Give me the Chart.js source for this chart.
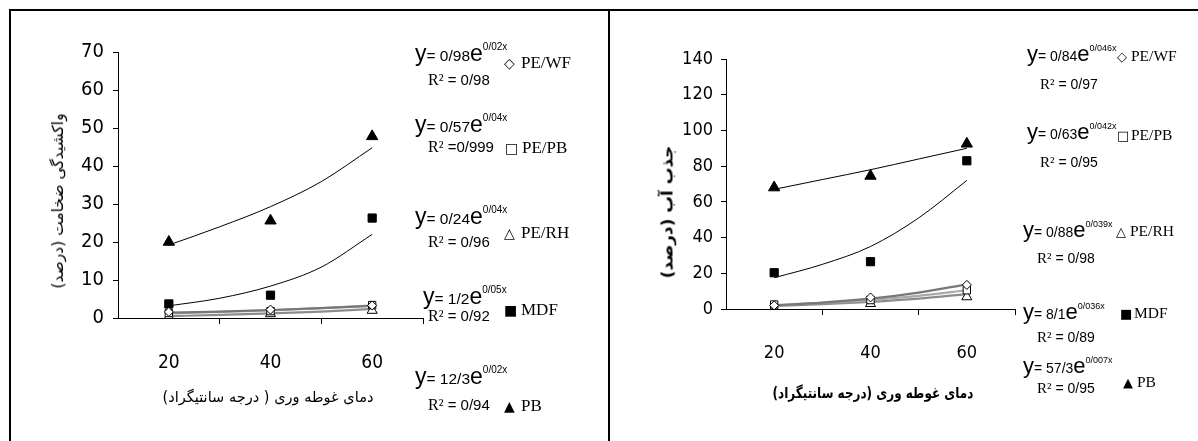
<!DOCTYPE html>
<html>
<head>
<meta charset="utf-8">
<script src="https://cdn.jsdelivr.net/npm/chart.js@4.4.1/dist/chart.umd.min.js"></script>
<style>
  html, body { margin:0; padding:0; background:#fff; }
  body { width:1198px; height:441px; position:relative; overflow:hidden; }
  .frameTop { position:absolute; left:9px; top:9px; width:1189px; height:2px; background:#000; }
  .frameLeft { position:absolute; left:9px; top:9px; width:2px; height:432px; background:#000; }
  .frameMid { position:absolute; left:608px; top:9px; width:2px; height:432px; background:#000; }
  canvas { position:absolute; }
  .t { position:absolute; white-space:nowrap; transform:translateY(-50%); color:#000; line-height:1; }
  .eq { font-family:"Liberation Sans",Arial,sans-serif; }
  .eq .b { font-size:23px; }
  .eq .m { font-size:15.5px; }
  .eq sup { font-size:10px; vertical-align:11px; }
  .r2 { font-family:"Liberation Sans",Arial,sans-serif; font-size:15px; }
  .r2 .s { font-family:"Liberation Serif",serif; font-size:16px; }
  .lg { font-family:"Liberation Serif",serif; font-size:17px; }
  .lg .k { font-family:"DejaVu Sans",sans-serif; font-size:14px; display:inline-block; width:17px; font-weight:bold; }
  .rp .eq .b { font-size:22px; }
  .rp .eq .m { font-size:14px; }
  .rp .eq sup { font-size:9px; vertical-align:10px; }
  .rp .r2 { font-size:14px; }
  .rp .r2 .s { font-size:15px; }
  .rp .lg { font-size:15.5px; }
  .rp .lg .k { width:14px; font-size:13px; }
  .fa { position:absolute; white-space:nowrap; font-family:"DejaVu Sans",sans-serif; font-size:15px; color:#000; direction:rtl; }
</style>
</head>
<body>
<div class="frameTop"></div>
<div class="frameLeft"></div>
<div class="frameMid"></div>
<canvas id="c1" width="597" height="430" style="left:11px;top:11px;"></canvas>
<canvas id="c2" width="587" height="430" style="left:611px;top:11px;"></canvas>
<div id="txt"></div>
<script>
// ---------- data ----------
const xValues = [20, 40, 60];
const trendX = [20, 30, 40, 50, 60];
const xTickLabels = ['20', '40', '60'];
const seriesNames = ['PE/WF', 'PE/PB', 'PE/RH', 'MDF', 'PB'];

// left chart: thickness swelling (%)
const swellPEWF = [1.6, 2.2, 3.3];
const swellPEPB = [1.3, 1.8, 3.4];
const swellPERH = [0.4, 1.1, 2.0];
const swellMDF  = [3.7, 6.0, 26.3];
const swellPB   = [20.0, 25.6, 47.8];
const swellTrendPEWF = [1.4, 1.7, 2.1, 2.6, 3.2];
const swellTrendPEPB = [1.2, 1.6, 2.0, 2.6, 3.3];
const swellTrendPERH = [0.5, 0.8, 1.2, 1.7, 2.4];
const swellTrendMDF  = [3.2, 5.2, 8.4, 13.4, 22.0];
const swellTrendPB   = [19.2, 24.0, 29.3, 35.9, 44.8];
const swellEq = ['0/98', '0/57', '0/24', '1/2', '12/3'];
const swellExp = ['0/02x', '0/04x', '0/04x', '0/05x', '0/02x'];
const swellR2 = ['= 0/98', '=0/999', '= 0/96', '= 0/92', '= 0/94'];

// right chart: water absorption (%)
const absPEWF = [2.0, 6.5, 13.5];
const absPEPB = [2.5, 5.0, 10.5];
const absPERH = [0.5, 3.0, 6.8];
const absMDF  = [20.3, 26.5, 83.0];
const absPB   = [68.0, 74.5, 92.5];
const absTrendPEWF = [2.0, 3.6, 5.8, 9.2, 13.8];
const absTrendPEPB = [2.2, 3.4, 5.0, 7.3, 10.5];
const absTrendPERH = [1.8, 2.7, 4.0, 5.8, 8.3];
const absTrendMDF  = [17.5, 25.0, 35.0, 51.0, 72.0];
const absTrendPB   = [67.0, 72.5, 78.0, 84.0, 90.0];
const absEq = ['0/84', '0/63', '0/88', '8/1', '57/3'];
const absExp = ['0/046x', '0/042x', '0/039x', '0/036x', '0/007x'];
const absR2 = ['= 0/97', '= 0/95', '= 0/98', '= 0/89', '= 0/95'];

// ---------- helpers ----------
const pts = (xs, ys) => xs.map((x, i) => ({x: x, y: ys[i]}));
const markerStyles = [
  {pointStyle:'rectRot', radius:4.5, fill:'#fff'},
  {pointStyle:'rect', radius:5.2, fill:'#fff'},
  {pointStyle:'triangle', radius:5.8, fill:'#fff'},
  {pointStyle:'rect', radius:5.8, fill:'#000'},
  {pointStyle:'triangle', radius:6.5, fill:'#000'}
];
const trendColors = ['#777', '#aaa', '#8c8c8c', '#000', '#000'];
const tickFont = "'DejaVu Sans Condensed','Liberation Sans',sans-serif";

function buildChart(id, pointSeries, trendSeries, yMax, yStep, geo) {
  const datasets = [];
  pointSeries.forEach((s, i) => {
    const m = markerStyles[i];
    datasets.push({
      label: seriesNames[i], data: pts(xValues, s), showLine:false,
      pointStyle:m.pointStyle, pointRadius:m.radius, pointHoverRadius:m.radius,
      pointBackgroundColor:m.fill, pointBorderColor:'#000', pointBorderWidth:1
    });
  });
  trendSeries.forEach((s, i) => {
    datasets.push({
      label: seriesNames[i] + ' trend', data: pts(trendX, s), showLine:true,
      pointRadius:0, borderColor:trendColors[i], borderWidth: i < 3 ? 2.2 : 1,
      cubicInterpolationMode:'monotone', fill:false
    });
  });
  return new Chart(document.getElementById(id), {
    type:'scatter',
    data:{datasets:datasets},
    options:{
      responsive:false, animation:false, events:[],
      layout:{padding:{top:geo.top, right:geo.right, left:0, bottom:0}},
      plugins:{legend:{display:false}, tooltip:{enabled:false}},
      scales:{
        x:{
          type:'linear', min:10, max:70,
          afterBuildTicks(scale){ scale.ticks = [10,20,30,40,50,60,70].map(v => ({value:v})); },
          afterFit(scale){ scale.height = geo.xh; scale.paddingLeft = 0; scale.paddingRight = 0; },
          ticks:{
            autoSkip:false, maxRotation:0, color:'#000', padding:geo.xpad,
            font:{family:tickFont, size:geo.xfont},
            callback(v){ const i = xValues.indexOf(v); return i >= 0 ? xTickLabels[i] : ''; }
          },
          grid:{
            drawOnChartArea:false, drawTicks:true, tickLength:6, lineWidth:1,
            tickColor(ctx){ return (ctx.tick && [30,50,70].includes(ctx.tick.value)) ? '#000' : 'rgba(0,0,0,0)'; }
          },
          border:{display:true, color:'#000', width:1}
        },
        y:{
          type:'linear', min:0, max:yMax,
          afterFit(scale){ scale.width = geo.yw; scale.paddingTop = 0; scale.paddingBottom = 0; },
          ticks:{stepSize:yStep, color:'#000', padding:geo.ypad, font:{family:tickFont, size:geo.yfont}},
          grid:{drawOnChartArea:false, drawTicks:true, tickLength:5, tickColor:'#000'},
          border:{display:true, color:'#000', width:1}
        }
      }
    }
  });
}

buildChart('c1',
  [swellPEWF, swellPEPB, swellPERH, swellMDF, swellPB],
  [swellTrendPEWF, swellTrendPEPB, swellTrendPERH, swellTrendMDF, swellTrendPB],
  70, 10, {top:41, right:185, xh:123, yw:107, xpad:28, ypad:9, xfont:19, yfont:20});

buildChart('c2',
  [absPEWF, absPEPB, absPERH, absMDF, absPB],
  [absTrendPEWF, absTrendPEPB, absTrendPERH, absTrendMDF, absTrendPB],
  140, 20, {top:48, right:183, xh:132, yw:115, xpad:28, ypad:8, xfont:18, yfont:18});

// ---------- text (equations, legend, titles) ----------
const markerGlyphs = ['◇', '□', '△', '■', '▲'];
const txt = document.getElementById('txt');
function add(html, cls, x, y, parent) {
  const d = document.createElement('div');
  d.className = 't ' + cls; d.innerHTML = html;
  d.style.left = x + 'px'; d.style.top = y + 'px';
  parent.appendChild(d); return d;
}
function panel(cls, eqs, exps, r2s, layout) {
  const p = document.createElement('div'); p.className = cls; txt.appendChild(p);
  layout.forEach((L, i) => {
    add('<span class="b">y</span><span class="m">= ' + eqs[i] + '</span><span class="b">e</span><sup>' + exps[i] + '</sup>', 'eq', L.ex, L.ey, p);
    add('<span class="s">R²</span> ' + r2s[i], 'r2', L.rx, L.ry, p);
    add('<span class="k">' + markerGlyphs[i] + '</span>' + seriesNames[i], 'lg', L.lx, L.ly, p);
  });
}
panel('lp', swellEq, swellExp, swellR2, [
  {ex:415, ey:53, rx:428, ry:80, lx:504, ly:62},
  {ex:415, ey:124, rx:428, ry:147, lx:505, ly:147},
  {ex:415, ey:216, rx:428, ry:242, lx:504, ly:232},
  {ex:423, ey:296, rx:428, ry:316, lx:504, ly:309},
  {ex:415, ey:376, rx:428, ry:405, lx:504, ly:405}
]);
panel('rp', absEq, absExp, absR2, [
  {ex:1027, ey:54, rx:1040, ry:84, lx:1117, ly:56},
  {ex:1027, ey:132, rx:1040, ry:162, lx:1117, ly:135},
  {ex:1023, ey:230, rx:1037, ry:258, lx:1116, ly:231},
  {ex:1023, ey:312, rx:1037, ry:337, lx:1120, ly:313},
  {ex:1023, ey:366, rx:1037, ry:388, lx:1123, ly:382}
]);

function fa(text, cx, cy, rot, bold, size, sx) {
  const d = document.createElement('div');
  d.className = 'fa'; d.textContent = text;
  if (bold) d.style.fontWeight = 'bold';
  d.style.fontSize = size + 'px';
  d.style.left = cx + 'px'; d.style.top = cy + 'px';
  d.style.transform = 'translate(-50%,-50%)' + (rot ? ' rotate(-90deg)' : '') + ' scaleX(' + sx + ')';
  txt.appendChild(d);
}
fa('واکشیدگی ضخامت (درصد)', 58, 201, true, false, 15.5, 1);
fa('دمای غوطه وری ( درجه سانتیگراد)', 268, 397, false, false, 15, 0.97);
fa('جذب آب (درصد)', 667, 212, true, true, 16, 1.05);
fa('دمای غوطه وری (درجه سانتیگراد)', 873, 393, false, true, 15, 0.8);
</script>
</body>
</html>
